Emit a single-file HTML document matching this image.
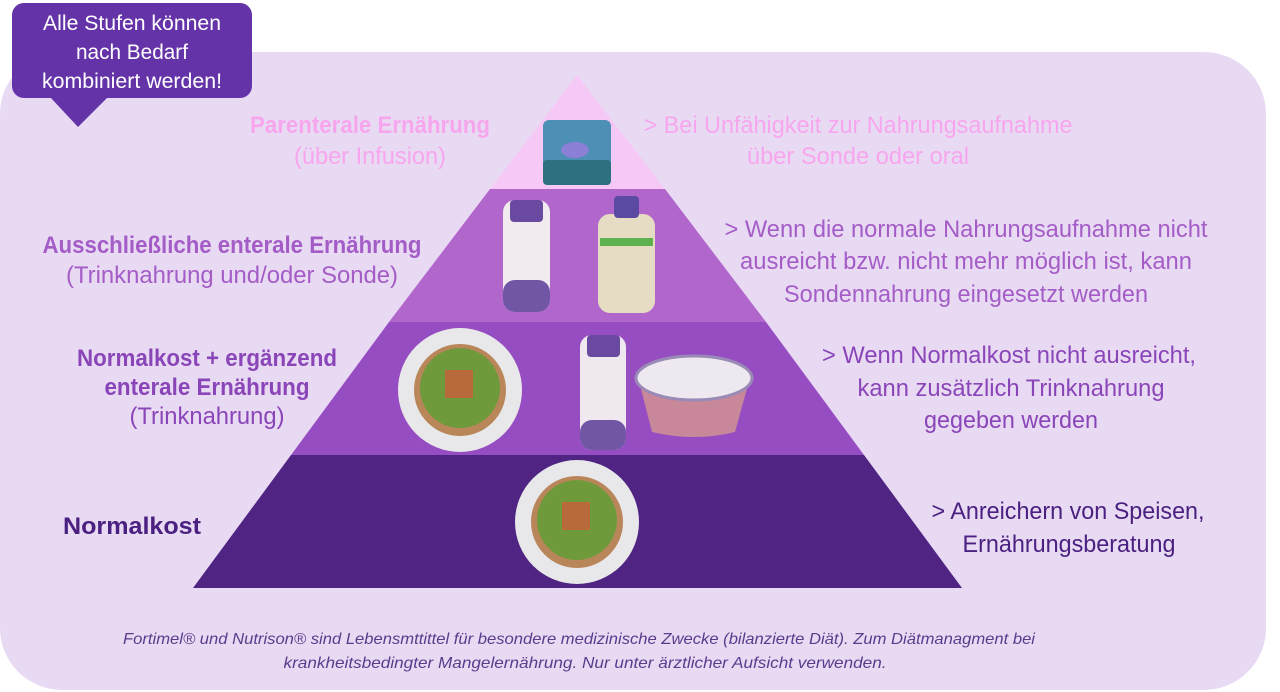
<!DOCTYPE html>
<html><head><meta charset="utf-8"><style>
html,body{margin:0;padding:0;background:#fff;width:1280px;height:692px;overflow:hidden}
svg{display:block}
text{font-family:"Liberation Sans",sans-serif}
</style></head><body>
<svg width="1280" height="692" viewBox="0 0 1280 692" xmlns="http://www.w3.org/2000/svg">
<rect x="0" y="52" width="1266" height="638" rx="62" fill="#e9daf4"/>
<!-- callout -->
<rect x="12" y="3" width="240" height="95" rx="12" fill="#6533a8"/>
<polygon points="50,97 108,97 78,127" fill="#6533a8"/>
<g fill="#fff" font-size="21" text-anchor="middle">
<text x="132" y="30" textLength="178" lengthAdjust="spacingAndGlyphs">Alle Stufen können</text>
<text x="132" y="59" textLength="112" lengthAdjust="spacingAndGlyphs">nach Bedarf</text>
<text x="132" y="88" textLength="180" lengthAdjust="spacingAndGlyphs">kombiniert werden!</text>
</g>
<!-- pyramid -->
<polygon points="577,75 665,189 490,189" fill="#f6c8f6"/>
<polygon points="490,189 665,189 766,322 389,322" fill="#b166cc"/>
<polygon points="389,322 766,322 864,455 291,455" fill="#974dc2"/>
<polygon points="291,455 864,455 962,588 193,588" fill="#4f2483"/>
<!-- IV photo -->
<rect x="543" y="120" width="68" height="65" rx="6" fill="#4d8fb5"/>
<rect x="543" y="160" width="68" height="25" rx="4" fill="#2e6f80"/>
<ellipse cx="575" cy="150" rx="14" ry="8" fill="#8c7fd6"/>
<!-- bottles tier 2 -->
<rect x="503" y="200" width="47" height="112" rx="12" fill="#f1ebef"/>
<rect x="510" y="200" width="33" height="22" rx="4" fill="#6a4aa0"/>
<rect x="503" y="280" width="47" height="32" rx="12" fill="#7056a5"/>
<rect x="598" y="214" width="57" height="99" rx="12" fill="#e6dcc4"/>
<rect x="614" y="196" width="25" height="22" rx="4" fill="#5b4aa2"/>
<rect x="600" y="238" width="53" height="8" fill="#5db14e"/>
<!-- tier 3 -->
<circle cx="460" cy="390" r="62" fill="#e8e7ea"/>
<circle cx="460" cy="390" r="46" fill="#b9865a"/>
<circle cx="460" cy="388" r="40" fill="#6f9a3c"/>
<rect x="445" y="370" width="28" height="28" fill="#b86a3a"/>
<rect x="580" y="335" width="46" height="115" rx="12" fill="#efe8ee"/>
<rect x="587" y="335" width="33" height="22" rx="4" fill="#6a4aa0"/>
<rect x="580" y="420" width="46" height="30" rx="12" fill="#7056a5"/>
<path d="M640,385 L748,385 L735,432 Q694,442 652,432 Z" fill="#c9889a"/>
<ellipse cx="694" cy="378" rx="58" ry="22" fill="#eee8f0" stroke="#9a8ab6" stroke-width="3"/>
<!-- tier 4 -->
<circle cx="577" cy="522" r="62" fill="#e8e7ea"/>
<circle cx="577" cy="522" r="46" fill="#b9865a"/>
<circle cx="577" cy="520" r="40" fill="#6f9a3c"/>
<rect x="562" y="502" width="28" height="28" fill="#b86a3a"/>
<!-- left labels -->
<g text-anchor="middle" font-size="24">
<text x="370" y="133" fill="#f7a6ee" font-weight="bold" textLength="240" lengthAdjust="spacingAndGlyphs">Parenterale Ernährung</text>
<text x="370" y="164" fill="#f7a6ee" textLength="152" lengthAdjust="spacingAndGlyphs">(über Infusion)</text>
<text x="232" y="253" fill="#a45cc6" font-weight="bold" textLength="379" lengthAdjust="spacingAndGlyphs">Ausschließliche enterale Ernährung</text>
<text x="232" y="283" fill="#a45cc6" textLength="332" lengthAdjust="spacingAndGlyphs">(Trinknahrung und/oder Sonde)</text>
<text x="207" y="366" fill="#8a45b8" font-weight="bold" textLength="260" lengthAdjust="spacingAndGlyphs">Normalkost + ergänzend</text>
<text x="207" y="395" fill="#8a45b8" font-weight="bold" textLength="205" lengthAdjust="spacingAndGlyphs">enterale Ernährung</text>
<text x="207" y="424" fill="#8a45b8" textLength="155" lengthAdjust="spacingAndGlyphs">(Trinknahrung)</text>
<text x="132" y="534" fill="#4a2080" font-weight="bold" textLength="138" lengthAdjust="spacingAndGlyphs">Normalkost</text>
</g>
<!-- right labels -->
<g text-anchor="middle" font-size="24">
<text x="858" y="133" fill="#f7a6ee" textLength="429" lengthAdjust="spacingAndGlyphs">&gt; Bei Unfähigkeit zur Nahrungsaufnahme</text>
<text x="858" y="164" fill="#f7a6ee" textLength="222" lengthAdjust="spacingAndGlyphs">über Sonde oder oral</text>
<text x="966" y="237" fill="#a45cc6" textLength="483" lengthAdjust="spacingAndGlyphs">&gt; Wenn die normale Nahrungsaufnahme nicht</text>
<text x="966" y="269" fill="#a45cc6" textLength="452" lengthAdjust="spacingAndGlyphs">ausreicht bzw. nicht mehr möglich ist, kann</text>
<text x="966" y="302" fill="#a45cc6" textLength="364" lengthAdjust="spacingAndGlyphs">Sondennahrung eingesetzt werden</text>
<text x="1009" y="363" fill="#8a45b8" textLength="374" lengthAdjust="spacingAndGlyphs">&gt; Wenn Normalkost nicht ausreicht,</text>
<text x="1011" y="396" fill="#8a45b8" textLength="307" lengthAdjust="spacingAndGlyphs">kann zusätzlich Trinknahrung</text>
<text x="1011" y="428" fill="#8a45b8" textLength="174" lengthAdjust="spacingAndGlyphs">gegeben werden</text>
<text x="1068" y="519" fill="#4a2080" textLength="273" lengthAdjust="spacingAndGlyphs">&gt; Anreichern von Speisen,</text>
<text x="1069" y="552" fill="#4a2080" textLength="213" lengthAdjust="spacingAndGlyphs">Ernährungsberatung</text>
</g>
<g text-anchor="middle" font-size="16" font-style="italic" fill="#5a3c8c">
<text x="579" y="644" textLength="912" lengthAdjust="spacingAndGlyphs">Fortimel® und Nutrison® sind Lebensmttittel für besondere medizinische Zwecke (bilanzierte Diät). Zum Diätmanagment bei</text>
<text x="585" y="668" textLength="603" lengthAdjust="spacingAndGlyphs">krankheitsbedingter Mangelernährung. Nur unter ärztlicher Aufsicht verwenden.</text>
</g>
</svg>
</body></html>
